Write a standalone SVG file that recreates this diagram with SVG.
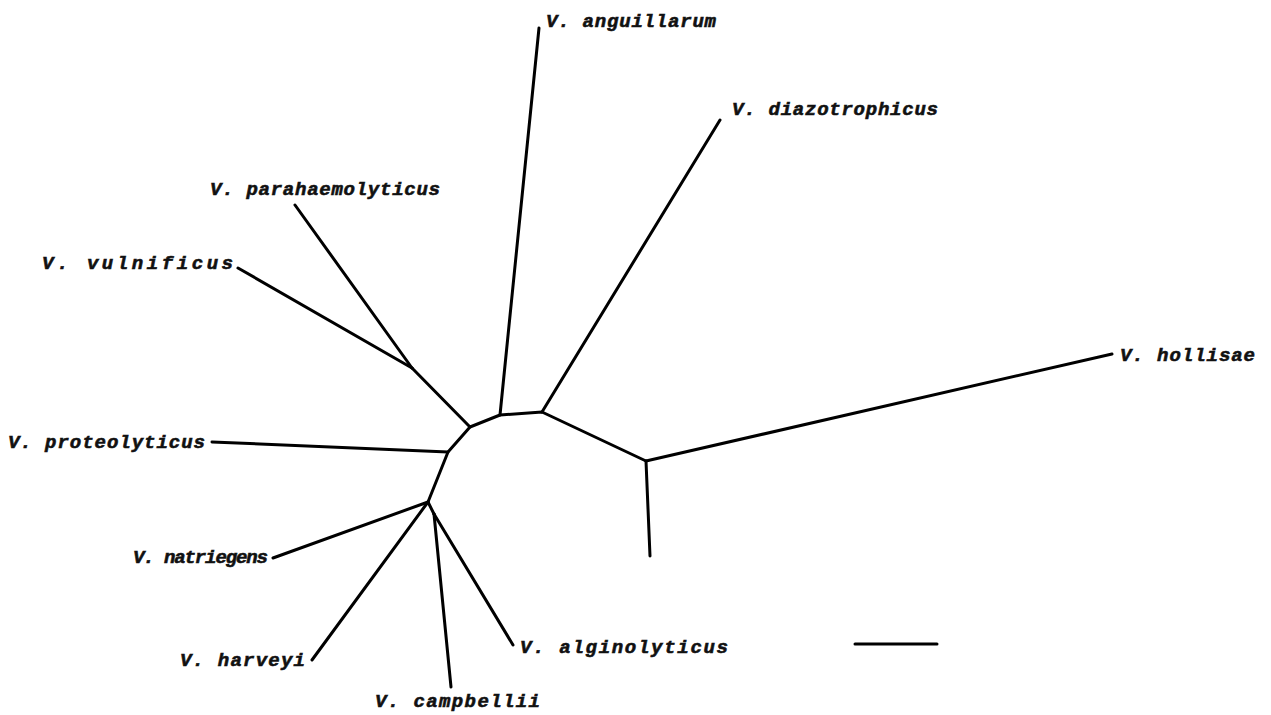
<svg xmlns="http://www.w3.org/2000/svg" width="1271" height="715" viewBox="0 0 1271 715">
<style>
.e{stroke:#000;stroke-width:3;fill:none;stroke-linecap:round;stroke-linejoin:round}
.t{font-family:"Liberation Mono","DejaVu Sans Mono",monospace;font-weight:bold;font-style:italic;font-size:19px;fill:#111;stroke:#111;stroke-width:0.6}
</style>
<rect width="1271" height="715" fill="#fff"/>
<g id="connectors">
<polyline class="e" points="428,502 448,452 470,427 500,415 542,412 646,461"/>
<line class="e" x1="646" y1="461" x2="1112" y2="354"/>
<line class="e" x1="646" y1="461" x2="650" y2="556"/>
<line class="e" x1="500" y1="415" x2="539" y2="28"/>
<line class="e" x1="542" y1="412" x2="720" y2="120"/>
<line class="e" x1="470" y1="427" x2="412" y2="368"/>
<line class="e" x1="412" y1="368" x2="295" y2="205"/>
<line class="e" x1="412" y1="368" x2="238" y2="268"/>
<line class="e" x1="448" y1="452" x2="212" y2="442"/>
<line class="e" x1="428" y1="502" x2="273" y2="558"/>
<line class="e" x1="428" y1="502" x2="312" y2="660"/>
<line class="e" x1="428" y1="502" x2="434" y2="514"/>
<line class="e" x1="434" y1="514" x2="451" y2="687"/>
<line class="e" x1="434" y1="514" x2="513" y2="645"/>
<line class="e" x1="855" y1="644" x2="937" y2="644"/>
</g>
<g id="anguillarum"><text class="t" x="546" y="27" textLength="170" lengthAdjust="spacing">V. anguillarum</text></g>
<g id="diazotrophicus"><text class="t" x="732" y="115" textLength="206" lengthAdjust="spacing">V. diazotrophicus</text></g>
<g id="parahaemolyticus"><text class="t" x="210" y="195" textLength="230" lengthAdjust="spacing">V. parahaemolyticus</text></g>
<g id="vulnificus"><text class="t" x="42" y="269" textLength="191" lengthAdjust="spacing">V. vulnificus</text></g>
<g id="hollisae"><text class="t" x="1120" y="361" textLength="135" lengthAdjust="spacing">V. hollisae</text></g>
<g id="proteolyticus"><text class="t" x="8" y="448" textLength="197" lengthAdjust="spacing">V. proteolyticus</text></g>
<g id="natriegens"><text class="t" x="133" y="563" textLength="135" lengthAdjust="spacing">V. natriegens</text></g>
<g id="harveyi"><text class="t" x="180" y="666" textLength="125" lengthAdjust="spacing">V. harveyi</text></g>
<g id="campbellii"><text class="t" x="375" y="707" textLength="165" lengthAdjust="spacing">V. campbellii</text></g>
<g id="alginolyticus"><text class="t" x="520" y="653" textLength="208" lengthAdjust="spacing">V. alginolyticus</text></g>
</svg>
